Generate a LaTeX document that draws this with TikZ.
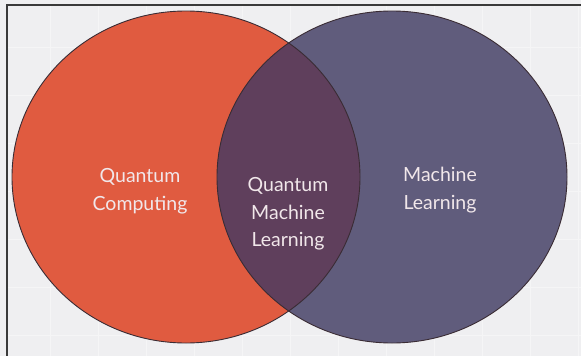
\documentclass[tikz,border=0pt]{standalone}
\usepackage{fontspec}
\setmainfont{Lato}
\definecolor{bgc}{HTML}{EFEFF1}
\definecolor{gridc}{HTML}{F5F5F6}
\definecolor{orangec}{HTML}{E05B40}
\definecolor{slatec}{HTML}{605C7C}
\definecolor{plumc}{HTML}{5F3F5C}
\definecolor{edgec}{HTML}{3A2C34}
\definecolor{txtc}{HTML}{F1E7EA}
\definecolor{framec}{HTML}{3A3A3A}
\begin{document}
\begin{tikzpicture}[x=1pt,y=-1pt,
  lbl/.style={align=center,text=txtc,font=\fontsize{19.5}{27.5}\selectfont,inner sep=0pt},
  ring/.style={draw=edgec,line width=0.9pt}]
\useasboundingbox (0,0) rectangle (581,356);
\fill[bgc] (0,0) rectangle (581,356);
% faint grid
\foreach \gx in {50,98,146,194,242,290,338,386,434,482,530,578}
  \draw[gridc,line width=1pt] (\gx,5) -- (\gx,356);
\foreach \gy in {47,95,143,191,239,287,335}
  \draw[gridc,line width=1pt] (7,\gy) -- (581,\gy);
% frame
\draw[framec,line width=2pt] (7,356) -- (7,5) -- (581,5);
% circles
\coordinate (cl) at (186,177);
\coordinate (cr) at (392,177);
\fill[orangec] (cl) ellipse [x radius=174, y radius=166];
\fill[slatec] (cr) ellipse [x radius=175, y radius=166];
\begin{scope}
  \clip (cl) ellipse [x radius=174, y radius=166];
  \fill[plumc] (cr) ellipse [x radius=175, y radius=166];
\end{scope}
\draw[ring] (cl) ellipse [x radius=174, y radius=166];
\draw[ring] (cr) ellipse [x radius=175, y radius=166];
% labels
\node[lbl] (qc) at (140,191) {Quantum\\Computing};
\node[lbl] (qml) at (288,214) {Quantum\\Machine\\Learning};
\node[lbl] (ml) at (440,190) {Machine\\Learning};
\end{tikzpicture}
\end{document}
